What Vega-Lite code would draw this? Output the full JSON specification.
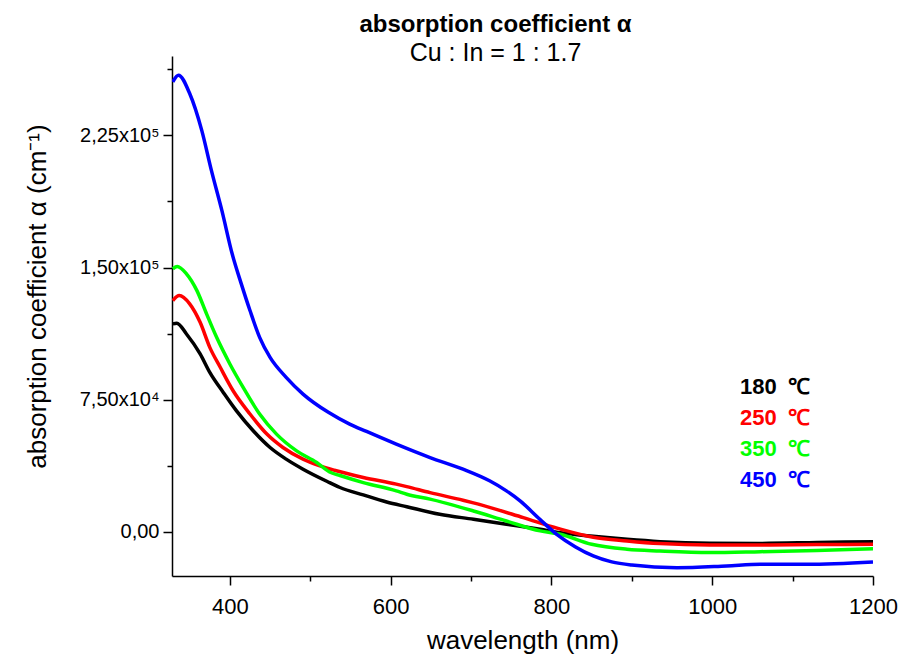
{
  "$schema": "https://vega.github.io/schema/vega-lite/v6.json",
  "width": 701,
  "height": 520,
  "autosize": {"type": "none"},
  "padding": {"left": 172, "top": 56, "right": 30, "bottom": 83},
  "background": "white",
  "config": {
    "view": {"stroke": null},
    "font": "Liberation Sans, Arial"
  },
  "title": {
    "text": "absorption coefficient α",
    "subtitle": "Cu : In = 1 : 1.7",
    "anchor": "middle",
    "frame": "group",
    "dx": -27,
    "offset": -10,
    "font": "Liberation Sans, Arial",
    "fontSize": 24,
    "fontWeight": "bold",
    "color": "black",
    "subtitleFont": "Liberation Sans, Arial",
    "subtitleFontSize": 25,
    "subtitleColor": "black",
    "subtitlePadding": 4
  },
  "data": {
    "values": [
      {"T": "180 ℃", "wl": 329, "a": 118000},
      {"T": "180 ℃", "wl": 334, "a": 118400},
      {"T": "180 ℃", "wl": 346, "a": 112300},
      {"T": "180 ℃", "wl": 363, "a": 101000},
      {"T": "180 ℃", "wl": 375, "a": 90500},
      {"T": "180 ℃", "wl": 392, "a": 79000},
      {"T": "180 ℃", "wl": 408, "a": 68800},
      {"T": "180 ℃", "wl": 429, "a": 57400},
      {"T": "180 ℃", "wl": 450, "a": 47900},
      {"T": "180 ℃", "wl": 470, "a": 41300},
      {"T": "180 ℃", "wl": 491, "a": 35600},
      {"T": "180 ℃", "wl": 524, "a": 28000},
      {"T": "180 ℃", "wl": 537, "a": 25200},
      {"T": "180 ℃", "wl": 566, "a": 21000},
      {"T": "180 ℃", "wl": 595, "a": 17000},
      {"T": "180 ℃", "wl": 620, "a": 14300},
      {"T": "180 ℃", "wl": 661, "a": 10000},
      {"T": "180 ℃", "wl": 703, "a": 7200},
      {"T": "180 ℃", "wl": 744, "a": 4400},
      {"T": "180 ℃", "wl": 786, "a": 1500},
      {"T": "180 ℃", "wl": 811, "a": -400},
      {"T": "180 ℃", "wl": 827, "a": -1300},
      {"T": "180 ℃", "wl": 852, "a": -2500},
      {"T": "180 ℃", "wl": 894, "a": -4200},
      {"T": "180 ℃", "wl": 935, "a": -5500},
      {"T": "180 ℃", "wl": 997, "a": -6400},
      {"T": "180 ℃", "wl": 1060, "a": -6500},
      {"T": "180 ℃", "wl": 1130, "a": -6000},
      {"T": "180 ℃", "wl": 1200, "a": -5500},

      {"T": "250 ℃", "wl": 329, "a": 131200},
      {"T": "250 ℃", "wl": 337, "a": 134100},
      {"T": "250 ℃", "wl": 350, "a": 129400},
      {"T": "250 ℃", "wl": 363, "a": 118900},
      {"T": "250 ℃", "wl": 375, "a": 104700},
      {"T": "250 ℃", "wl": 388, "a": 93400},
      {"T": "250 ℃", "wl": 404, "a": 80100},
      {"T": "250 ℃", "wl": 425, "a": 66900},
      {"T": "250 ℃", "wl": 446, "a": 55500},
      {"T": "250 ℃", "wl": 466, "a": 47900},
      {"T": "250 ℃", "wl": 491, "a": 41300},
      {"T": "250 ℃", "wl": 512, "a": 37500},
      {"T": "250 ℃", "wl": 530, "a": 35000},
      {"T": "250 ℃", "wl": 566, "a": 30900},
      {"T": "250 ℃", "wl": 607, "a": 27100},
      {"T": "250 ℃", "wl": 620, "a": 25700},
      {"T": "250 ℃", "wl": 649, "a": 22300},
      {"T": "250 ℃", "wl": 690, "a": 18000},
      {"T": "250 ℃", "wl": 703, "a": 16500},
      {"T": "250 ℃", "wl": 765, "a": 8100},
      {"T": "250 ℃", "wl": 808, "a": 2000},
      {"T": "250 ℃", "wl": 852, "a": -3000},
      {"T": "250 ℃", "wl": 894, "a": -5100},
      {"T": "250 ℃", "wl": 935, "a": -6600},
      {"T": "250 ℃", "wl": 997, "a": -7400},
      {"T": "250 ℃", "wl": 1060, "a": -7400},
      {"T": "250 ℃", "wl": 1130, "a": -7200},
      {"T": "250 ℃", "wl": 1200, "a": -7000},

      {"T": "350 ℃", "wl": 329, "a": 149300},
      {"T": "350 ℃", "wl": 334.5, "a": 150600},
      {"T": "350 ℃", "wl": 346, "a": 146400},
      {"T": "350 ℃", "wl": 359, "a": 136900},
      {"T": "350 ℃", "wl": 371, "a": 123700},
      {"T": "350 ℃", "wl": 383.5, "a": 110400},
      {"T": "350 ℃", "wl": 400, "a": 95300},
      {"T": "350 ℃", "wl": 416.5, "a": 82000},
      {"T": "350 ℃", "wl": 437, "a": 66900},
      {"T": "350 ℃", "wl": 458, "a": 55500},
      {"T": "350 ℃", "wl": 483, "a": 46000},
      {"T": "350 ℃", "wl": 508, "a": 39400},
      {"T": "350 ℃", "wl": 524, "a": 34000},
      {"T": "350 ℃", "wl": 537, "a": 32000},
      {"T": "350 ℃", "wl": 566, "a": 28000},
      {"T": "350 ℃", "wl": 607, "a": 23300},
      {"T": "350 ℃", "wl": 620, "a": 21400},
      {"T": "350 ℃", "wl": 649, "a": 18600},
      {"T": "350 ℃", "wl": 703, "a": 11900},
      {"T": "350 ℃", "wl": 744, "a": 6200},
      {"T": "350 ℃", "wl": 786, "a": 600},
      {"T": "350 ℃", "wl": 811, "a": -1300},
      {"T": "350 ℃", "wl": 850, "a": -7000},
      {"T": "350 ℃", "wl": 894, "a": -9800},
      {"T": "350 ℃", "wl": 935, "a": -10800},
      {"T": "350 ℃", "wl": 997, "a": -11700},
      {"T": "350 ℃", "wl": 1060, "a": -11200},
      {"T": "350 ℃", "wl": 1130, "a": -10500},
      {"T": "350 ℃", "wl": 1200, "a": -9500},

      {"T": "450 ℃", "wl": 329, "a": 255300},
      {"T": "450 ℃", "wl": 336, "a": 259100},
      {"T": "450 ℃", "wl": 350, "a": 248700},
      {"T": "450 ℃", "wl": 365, "a": 227800},
      {"T": "450 ℃", "wl": 377, "a": 205100},
      {"T": "450 ℃", "wl": 390, "a": 182400},
      {"T": "450 ℃", "wl": 403, "a": 157500},
      {"T": "450 ℃", "wl": 414, "a": 141000},
      {"T": "450 ℃", "wl": 425, "a": 125600},
      {"T": "450 ℃", "wl": 437, "a": 110400},
      {"T": "450 ℃", "wl": 450, "a": 99000},
      {"T": "450 ℃", "wl": 470, "a": 87700},
      {"T": "450 ℃", "wl": 491, "a": 78200},
      {"T": "450 ℃", "wl": 522, "a": 68000},
      {"T": "450 ℃", "wl": 549, "a": 61200},
      {"T": "450 ℃", "wl": 570, "a": 57000},
      {"T": "450 ℃", "wl": 607, "a": 49800},
      {"T": "450 ℃", "wl": 649, "a": 42200},
      {"T": "450 ℃", "wl": 690, "a": 35600},
      {"T": "450 ℃", "wl": 723, "a": 29000},
      {"T": "450 ℃", "wl": 744, "a": 23300},
      {"T": "450 ℃", "wl": 761, "a": 17600},
      {"T": "450 ℃", "wl": 786, "a": 7000},
      {"T": "450 ℃", "wl": 807, "a": -1500},
      {"T": "450 ℃", "wl": 830, "a": -8500},
      {"T": "450 ℃", "wl": 852, "a": -13600},
      {"T": "450 ℃", "wl": 875, "a": -17000},
      {"T": "450 ℃", "wl": 900, "a": -18800},
      {"T": "450 ℃", "wl": 956, "a": -20300},
      {"T": "450 ℃", "wl": 1018, "a": -19300},
      {"T": "450 ℃", "wl": 1060, "a": -18400},
      {"T": "450 ℃", "wl": 1118, "a": -18400},
      {"T": "450 ℃", "wl": 1200, "a": -17000}
    ]
  },
  "mark": {"type": "line", "strokeWidth": 3.5, "interpolate": "monotone", "clip": true},
  "encoding": {
    "x": {
      "field": "wl",
      "type": "quantitative",
      "scale": {"domain": [328, 1200], "nice": false, "zero": false},
      "axis": {
        "title": "wavelength (nm)",
        "values": [400, 500, 600, 700, 800, 900, 1000, 1100, 1200],
        "labelExpr": "datum.value % 200 === 0 ? format(datum.value, 'd') : ''",
        "grid": false,
        "domainColor": "black",
        "domainWidth": 1.5,
        "tickColor": "black",
        "tickWidth": 1.5,
        "tickSize": {"condition": {"test": "datum.value % 200 === 0", "value": 9}, "value": 5},
        "labelFontSize": 22,
        "labelColor": "black",
        "labelPadding": 11,
        "labelFlush": false,
        "titleFontSize": 26,
        "titleFontWeight": "normal",
        "titleColor": "black",
        "titlePadding": 10
      }
    },
    "y": {
      "field": "a",
      "type": "quantitative",
      "scale": {"domain": [-25000, 270000], "nice": false, "zero": false},
      "axis": {
        "title": "absorption coefficient α (cm⁻¹)",
        "values": [0, 37500, 75000, 112500, 150000, 187500, 225000, 262500],
        "labelExpr": "datum.value === 0 ? '0,00' : datum.value === 75000 ? '7,50x10⁴' : datum.value === 150000 ? '1,50x10⁵' : datum.value === 225000 ? '2,25x10⁵' : ''",
        "grid": false,
        "domainColor": "black",
        "domainWidth": 1.5,
        "tickColor": "black",
        "tickWidth": 1.5,
        "tickSize": {"condition": {"test": "datum.value % 75000 === 0", "value": 9}, "value": 5},
        "labelFontSize": 20,
        "labelColor": "black",
        "labelPadding": 4,
        "labelFlush": false,
        "titleFontSize": 26,
        "titleFontWeight": "normal",
        "titleColor": "black",
        "titlePadding": 29,
        "titleY": 240
      }
    },
    "color": {
      "field": "T",
      "type": "nominal",
      "scale": {"domain": ["180 ℃", "250 ℃", "350 ℃", "450 ℃"], "range": ["#000000", "#ff0000", "#00ff00", "#0000ff"]},
      "legend": {
        "title": null,
        "orient": "none",
        "legendX": 546,
        "legendY": 320,
        "symbolSize": 0,
        "symbolStrokeWidth": 0,
        "symbolOpacity": 0,
        "labelOffset": 0,
        "labelFontSize": 22,
        "labelFontWeight": "bold",
        "labelExpr": "replace(datum.label, ' ', '\u2002')",
        "rowPadding": 9,
        "padding": 0,
        "encode": {"labels": {"update": {"fill": {"scale": "color", "field": "value"}}}}
      }
    }
  }
}
